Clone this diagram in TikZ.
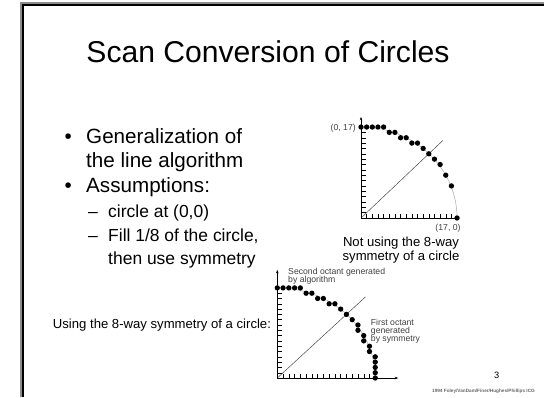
\documentclass[tikz,border=0pt]{standalone}
\usepackage{fontspec}
\setmainfont{Liberation Sans}
\usetikzlibrary{arrows.meta}
\tikzset{
  slidetitle/.style={anchor=base, inner sep=0pt,
                     font=\fontsize{25.7}{30}\selectfont},
  bulletitem/.style={anchor=base west, inner sep=0pt,
                     font=\fontsize{17.6}{21}\selectfont},
  subitem/.style={anchor=base west, inner sep=0pt,
                  font=\fontsize{14.9}{18}\selectfont},
  caption/.style={inner sep=0pt, font=\fontsize{11.2}{13}\selectfont},
  graphnote/.style={inner sep=0pt, text=black!75,
                    font=\fontsize{7.4}{8}\selectfont},
  pixelpt/.style={circle, fill=black, inner sep=0pt, minimum size=0.16cm},
  axisline/.style={draw, line width=0.5pt},
  tickline/.style={draw, line width=0.35pt},
  truearc/.style={draw, black!30, line width=0.5pt},
  diagline/.style={draw, black!75, line width=0.4pt},
  axisarrow/.style={-{Stealth[length=3pt, width=2.2pt]}}
}

\begin{document}
\begin{tikzpicture}[x=0.03cm, y=-0.03cm]
  \useasboundingbox (0,0) rectangle (544,397);
  % slide frame
  \draw[black!45, line width=0.09cm] (21.3,397) -- (21.3,3.3) -- (544,3.3);
  \draw[line width=0.075cm] (22.8,397) -- (22.8,4.8) -- (544,4.8);

  \node[slidetitle] (title) at (268,63) {Scan Conversion of Circles};

  % bullet list
  \node[bulletitem] (b1) at (64.5,143) {\textbullet};
  \node[bulletitem] (t1) at (86,143) {Generalization of};
  \node[bulletitem] (t2) at (86,167) {the line algorithm};
  \node[bulletitem] (b2) at (64.5,192) {\textbullet};
  \node[bulletitem] (t3) at (86,192) {Assumptions:};
  \node[subitem] (d1) at (88,217) {--};
  \node[subitem] (s1) at (108,217) {circle at (0,0)};
  \node[subitem] (d2) at (88,241) {--};
  \node[subitem] (s2) at (108,241) {Fill 1/8 of the circle,};
  \node[subitem] (s3) at (108,264) {then use symmetry};

  % naive circle, no symmetry
  \begin{scope}[shift={(361,218)}, x=0.1695cm, y=0.1605cm]
    \coordinate (topO) at (0,0);
    \coordinate (topY) at (0,18.9);
    \coordinate (topX) at (17,0);
    \coordinate (topD) at (14.5,14.5);
    \draw[truearc] plot[domain=0:90, samples=60, smooth]
      ({17*cos(\x)},{17*sin(\x)});
    \draw[diagline] (topO) -- (topD);
    \foreach \k in {1,...,16} {
      \draw[tickline] (0,\k) -- (0.9,\k);
      \draw[tickline] (\k,0) -- (\k,0.8);
    }
    \draw[axisline, axisarrow] (topO) -- (topY);
    \draw[axisline] (topO) -- (topX);
    \foreach \px/\py in {0/17, 1/17, 2/17, 3/17, 4/17, 5/16, 6/16, 7/15,
        8/15, 9/14, 10/14, 11/13, 12/12, 13/11, 14/10, 15/8, 16/6, 17/0} {
      \node[pixelpt] (top\px) at (\px,\py) {};
    }
  \end{scope}
  \node[graphnote, anchor=base east] (toplabY) at (356,130) {(0, 17)};
  \node[graphnote, anchor=base] (toplabX) at (448,230.5) {(17, 0)};
  \node[caption, anchor=base] (cap1) at (401,246) {Not using the 8-way};
  \node[caption, anchor=base] (cap2) at (401,260) {symmetry of a circle};

  % circle filled from one octant by symmetry
  \begin{scope}[shift={(277.3,378)}, x=0.1728cm, y=0.159cm]
    \coordinate (botO) at (0,0);
    \coordinate (botY) at (0,20.4);
    \coordinate (botX) at (21,0);
    \coordinate (botD) at (15.3,15.3);
    \draw[truearc] plot[domain=0:90, samples=60, smooth]
      ({17*cos(\x)},{17*sin(\x)});
    \draw[diagline] (botO) -- (botD);
    \foreach \k in {1,...,16} {
      \draw[tickline] (0,\k) -- (0.9,\k);
      \draw[tickline] (\k,0) -- (\k,0.8);
    }
    \draw[axisline, axisarrow] (botO) -- (botY);
    \draw[axisline, axisarrow] (botO) -- (botX);
    \foreach \px/\py in {0/17, 1/17, 2/17, 3/17, 4/17, 5/16, 6/16, 7/15,
        8/15, 9/14, 10/14, 11/13, 12/12, 13/11, 14/10, 14/9, 15/8, 15/7,
        16/6, 16/5, 17/4, 17/3, 17/2, 17/1, 17/0} {
      \node[pixelpt] (bot\px-\py) at (\px,\py) {};
    }
  \end{scope}
  \node[graphnote, anchor=base west] (second1) at (288,274.5) {Second octant generated};
  \node[graphnote, anchor=base west] (second2) at (288,282) {by algorithm};
  \node[graphnote, anchor=base west] (first1) at (370.7,325) {First octant};
  \node[graphnote, anchor=base west] (first2) at (370.7,333) {generated};
  \node[graphnote, anchor=base west] (first3) at (370.7,341) {by symmetry};
  \node[caption, anchor=base west] (cap3) at (52.7,328)
    {Using the 8-way symmetry of a circle:};

  % page number and credit
  \node[inner sep=0pt, anchor=base, font=\fontsize{7.9}{9}\selectfont]
    (pagenum) at (496.7,378.3) {3};
  \node[inner sep=0pt, anchor=base east, text=black!60,
        font=\fontsize{4}{5}\selectfont\bfseries]
    (credit) at (535,392) {1994 Foley/VanDam/Finer/Hughes/Phillips ICG};
\end{tikzpicture}
\end{document}
